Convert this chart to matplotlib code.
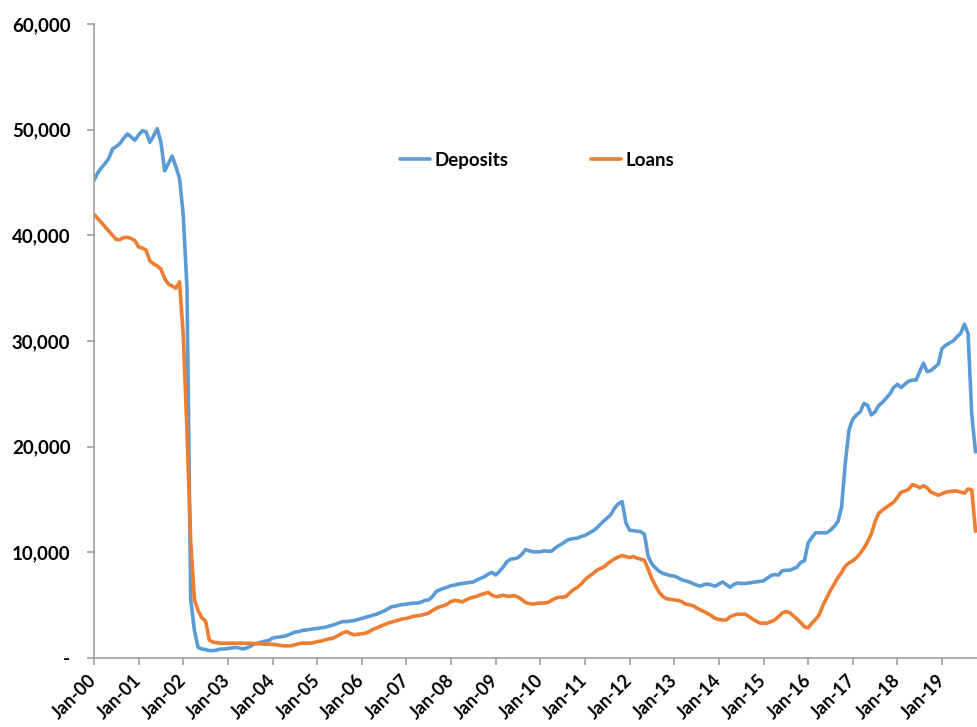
import numpy as np
import matplotlib
matplotlib.use("Agg")
import matplotlib.pyplot as plt
from matplotlib.ticker import FixedLocator, FuncFormatter

# Monthly balances, Jan-2000 .. Oct-2019
deposits = [
    45200, 45900, 46400, 46800, 47300, 48200, 48400, 48700, 49200, 49600, 49300, 49000,  # 2000
    49500, 49900, 49800, 48800, 49400, 50100, 48800, 46100, 46800, 47500, 46500, 45400,  # 2001
    41900, 35000, 5500, 2600, 1000, 850, 800, 700, 700, 750, 850, 850,                  # 2002
    900, 950, 1000, 950, 850, 950, 1100, 1300, 1400, 1500, 1600, 1650,                   # 2003
    1900, 1950, 2000, 2050, 2150, 2300, 2450, 2500, 2600, 2650, 2700, 2750,              # 2004
    2800, 2850, 2900, 3000, 3100, 3200, 3350, 3450, 3450, 3500, 3550, 3650,              # 2005
    3750, 3850, 3950, 4050, 4150, 4300, 4450, 4650, 4850, 4900, 5000, 5050,              # 2006
    5100, 5150, 5200, 5200, 5300, 5450, 5500, 5800, 6300, 6450, 6600, 6700,              # 2007
    6850, 6900, 7000, 7050, 7100, 7150, 7200, 7400, 7550, 7700, 7950, 8100,              # 2008
    7850, 8200, 8600, 9100, 9350, 9400, 9500, 9800, 10250, 10150, 10050, 10050,          # 2009
    10050, 10150, 10100, 10100, 10400, 10650, 10850, 11100, 11250, 11300, 11350, 11500,  # 2010
    11600, 11800, 12000, 12250, 12600, 12950, 13250, 13600, 14200, 14600, 14800, 12800,  # 2011
    12100, 12050, 12000, 11950, 11700, 9600, 8900, 8500, 8200, 8000, 7900, 7800,         # 2012
    7750, 7600, 7400, 7300, 7200, 7050, 6900, 6800, 6950, 7000, 6900, 6800,              # 2013
    7000, 7200, 6950, 6700, 6950, 7100, 7050, 7050, 7100, 7150, 7200, 7250,              # 2014
    7300, 7550, 7800, 7900, 7850, 8250, 8300, 8300, 8450, 8600, 9050, 9200,              # 2015
    10900, 11400, 11850, 11850, 11850, 11850, 12100, 12450, 12900, 14300, 18500, 21600,  # 2016
    22600, 23000, 23300, 24100, 23900, 23000, 23300, 23900, 24200, 24600, 25000, 25600,  # 2017
    25900, 25600, 25900, 26200, 26300, 26300, 27100, 27900, 27100, 27200, 27500, 27800,  # 2018
    29300, 29600, 29800, 30000, 30400, 30700, 31600, 30700, 23000, 19500,                # 2019
]

loans = [
    42000, 41600, 41200, 40800, 40400, 40000, 39600, 39600, 39800, 39800, 39700, 39500,  # 2000
    38900, 38800, 38600, 37600, 37300, 37100, 36800, 35900, 35400, 35200, 35000, 35600,  # 2001
    30500, 21500, 11000, 5500, 4500, 3800, 3500, 1700, 1500, 1450, 1400, 1400,           # 2002
    1400, 1400, 1400, 1400, 1400, 1400, 1400, 1350, 1350, 1350, 1300, 1300,              # 2003
    1300, 1250, 1200, 1150, 1150, 1150, 1250, 1350, 1400, 1400, 1400, 1450,              # 2004
    1550, 1600, 1700, 1800, 1850, 2000, 2200, 2400, 2500, 2300, 2200, 2250,              # 2005
    2300, 2350, 2500, 2700, 2850, 3000, 3150, 3300, 3400, 3500, 3600, 3700,              # 2006
    3750, 3850, 3950, 4000, 4050, 4150, 4250, 4500, 4700, 4850, 4950, 5100,              # 2007
    5350, 5450, 5400, 5300, 5500, 5650, 5750, 5850, 6000, 6100, 6200, 5950,              # 2008
    5800, 5850, 5950, 5850, 5850, 5900, 5750, 5550, 5250, 5150, 5100, 5150,              # 2009
    5200, 5200, 5250, 5450, 5650, 5750, 5750, 5850, 6200, 6500, 6700, 7000,              # 2010
    7400, 7700, 7950, 8250, 8450, 8600, 8900, 9150, 9400, 9550, 9700, 9600,              # 2011
    9500, 9600, 9450, 9350, 9250, 8400, 7500, 6800, 6200, 5800, 5600, 5550,              # 2012
    5500, 5450, 5350, 5100, 5050, 4950, 4750, 4550, 4400, 4200, 4000, 3750,              # 2013
    3650, 3600, 3600, 3900, 4050, 4150, 4150, 4150, 3950, 3700, 3500, 3300,              # 2014
    3300, 3300, 3450, 3600, 3900, 4250, 4400, 4300, 4000, 3700, 3350, 2950,              # 2015
    2850, 3300, 3650, 4100, 5000, 5700, 6400, 7000, 7600, 8100, 8700, 9000,              # 2016
    9200, 9500, 9900, 10400, 11000, 11750, 12900, 13700, 14000, 14250, 14500, 14750,     # 2017
    15200, 15700, 15800, 15950, 16400, 16300, 16100, 16300, 16100, 15700, 15550, 15400,  # 2018
    15550, 15700, 15750, 15800, 15800, 15700, 15600, 16000, 15900, 12000,                # 2019
]

x_labels = ["Jan-%02d" % y for y in range(0, 20)]
y_ticks = [0, 10000, 20000, 30000, 40000, 50000, 60000]

FONT = "Lato"
GRAY = "#A6A6A6"

fig = plt.figure(figsize=(9.77, 7.27), dpi=100)
ax = fig.add_axes([94 / 977, 1 - 658 / 727, 1 - 94 / 977, (658 - 24) / 727])

months = np.arange(len(deposits))
ax.plot(months, deposits, color="#5B9BD5", lw=2.6, label="Deposits",
        solid_joinstyle="round", solid_capstyle="round")
ax.plot(months, loans, color="#ED7D31", lw=2.6, label="Loans",
        solid_joinstyle="round", solid_capstyle="round")

ax.set_xlim(0, 237.4)
ax.set_ylim(0, 60000)

for side in ("top", "right"):
    ax.spines[side].set_visible(False)
for side in ("left", "bottom"):
    ax.spines[side].set_color(GRAY)
    ax.spines[side].set_linewidth(1.3)

ax.yaxis.set_major_locator(FixedLocator(y_ticks))
ax.yaxis.set_major_formatter(FuncFormatter(lambda v, p: "-" if v == 0 else f"{int(v):,}"))
ax.xaxis.set_major_locator(FixedLocator(np.arange(len(x_labels)) * 12))
ax.set_xticklabels(x_labels)

ax.tick_params(axis="both", direction="out", length=5, width=1.3, color=GRAY,
               labelcolor="black")
ax.tick_params(axis="y", pad=12)
ax.tick_params(axis="x", pad=9)

for lab in ax.get_yticklabels():
    lab.set_fontfamily(FONT)
    lab.set_fontweight("bold")
    lab.set_fontsize(13.5)
for lab in ax.get_xticklabels():
    lab.set_fontfamily(FONT)
    lab.set_fontweight("bold")
    lab.set_fontsize(13)
    lab.set_rotation(45)
    lab.set_ha("right")
    lab.set_va("center")
    lab.set_rotation_mode("anchor")

ax.legend(loc="center", bbox_to_anchor=(0.502, 0.785), ncol=2, frameon=False,
          handlelength=1.6, handletextpad=0.25, columnspacing=4.4,
          prop=dict(family=FONT, weight="bold", size=13.5))

fig.savefig("out.png", dpi=100)
